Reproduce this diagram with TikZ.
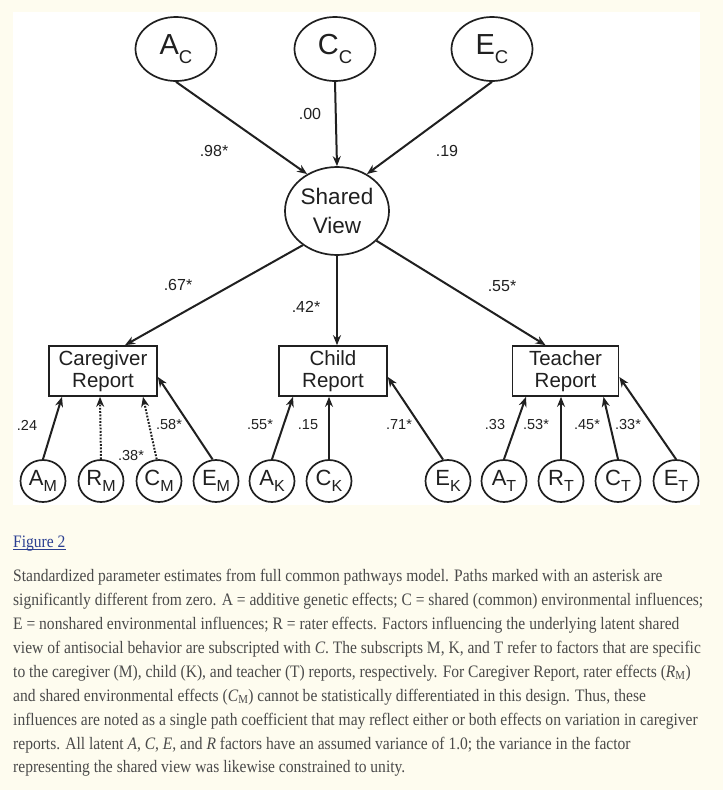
\documentclass[tikz,border=0pt]{standalone}
\usepackage{fontspec}
\setmainfont{Liberation Sans}
\newfontfamily\capfont{Liberation Serif}
\usepackage{graphicx}
\usetikzlibrary{shapes.geometric,arrows.meta}

\definecolor{bgcream}{HTML}{FEFCEF}
\definecolor{ink}{HTML}{202020}
\definecolor{captxt}{HTML}{4A4A4A}
\definecolor{linkblue}{HTML}{2B3F91}

\newcommand\toplab[2]{\fontsize{29}{29}\selectfont #1\raisebox{-9.5pt}{\fontsize{18.5}{18.5}\selectfont #2}}
\newcommand\botlab[2]{\fontsize{22}{22}\selectfont #1\raisebox{-6.5pt}{\fontsize{16}{16}\selectfont #2}}
\newcommand\capsize{\capfont\fontsize{17.5}{17.5}\selectfont}
\newsavebox\capbox
\newlength\caplen
\newcommand\capline[1]{\scalebox{\capf}[1]{\capsize #1}}

\begin{document}
\sbox\capbox{\capsize significantly different from zero. A = additive genetic effects; C = shared (common) environmental influences;}%
\setlength\caplen{\wd\capbox}%
\pgfmathsetmacro\capf{690/\caplen}%
\begin{tikzpicture}[x=1pt,y=-1pt,
  every node/.style={text=ink},
  lat/.style={draw=ink, ellipse, line width=1.7pt, inner sep=0pt},
  toplat/.style={lat, minimum width=81pt, minimum height=64pt},
  botlat/.style={lat, minimum width=45pt, minimum height=42pt},
  rep/.style={draw=ink, rectangle, line width=1.7pt, minimum width=108pt, minimum height=50pt, align=center, font=\fontsize{20.5}{22}\selectfont, inner sep=0pt},
  arr/.style={draw=ink, line width=2pt, -{Stealth[length=10pt,width=8pt]}},
  dotarr/.style={arr, dash pattern=on 1.8pt off 1.5pt},
  lab/.style={font=\fontsize{16}{16}\selectfont, inner sep=0pt},
  slab/.style={font=\fontsize{14.5}{14.5}\selectfont, inner sep=0pt},
  capl/.style={anchor=base west, inner sep=0pt, text=captxt},
]
\useasboundingbox (0,0) rectangle (723,790);
\fill[bgcream] (0,0) rectangle (723,790);
\fill[white] (13,12) rectangle (700,505);

% top latent factors
\node[toplat] (AC) at (176,49) {\toplab{A}{C}};
\node[toplat] (CC) at (335,49) {\toplab{C}{C}};
\node[toplat] (EC) at (492,49) {\toplab{E}{C}};

% shared view
\node[lat, minimum width=104pt, minimum height=88pt, align=center, font=\fontsize{22.5}{29}\selectfont] (SV) at (337,211) {Shared\\View};

% reports
\node[rep] (CG) at (103,371) {Caregiver\\Report};
\node[rep] (CR) at (333,371) {Child\\Report};
\node[rep, minimum width=106pt] (TR) at (565.5,371) {Teacher\\Report};

% bottom latent factors
\node[botlat] (AM) at (43,481) {\botlab{A}{M}};
\node[botlat] (RM) at (101,481) {\botlab{R}{M}};
\node[botlat] (CM) at (159,481) {\botlab{C}{M}};
\node[botlat] (EM) at (216,481) {\botlab{E}{M}};
\node[botlat] (AK) at (272,481) {\botlab{A}{K}};
\node[botlat] (CK) at (329,481) {\botlab{C}{K}};
\node[botlat] (EK) at (448,481) {\botlab{E}{K}};
\node[botlat] (AT) at (504,481) {\botlab{A}{T}};
\node[botlat] (RT) at (561,481) {\botlab{R}{T}};
\node[botlat] (CT) at (618,481) {\botlab{C}{T}};
\node[botlat] (ET) at (676,481) {\botlab{E}{T}};

% top paths
\draw[arr] (AC.south) -- (SV.129);
\draw[arr] (CC.south) -- (SV.north);
\draw[arr] (EC.south) -- (SV.51);
\node[lab] (l98) at (214,151) {.98*};
\node[lab] (l00) at (310,114) {.00};
\node[lab] (l19) at (447,151) {.19};

% shared view to reports
\draw[arr] (SV.225) -- ([xshift=22pt]CG.north);
\draw[arr] (SV.south) -- (SV.south |- CR.north);
\draw[arr] (SV.-37) -- ([xshift=-20pt]TR.north);
\node[lab] (l67) at (178,285) {.67*};
\node[lab] (l42) at (306,307) {.42*};
\node[lab] (l55) at (502,286) {.55*};

% caregiver
\draw[arr] (AM.north) -- ([xshift=-41pt]CG.south);
\draw[dotarr] (RM.north) -- ([xshift=-3pt]CG.south);
\draw[dotarr] (CM.96) -- ([xshift=40pt]CG.south);
\draw[arr] (EM.99) -- ([yshift=-6pt]CG.east);
\node[slab] (l24) at (27,425) {.24};
\node[slab] (l58) at (169,425) {.58*};
\node[slab] (l38) at (131,456) {.38*};

% child
\draw[arr] (AK.north) -- ([xshift=-40pt]CR.south);
\draw[arr] (CK.north) -- ([xshift=-4pt]CR.south);
\draw[arr] (EK.103) -- ([yshift=-6pt]CR.east);
\node[slab] (lak) at (260,425) {.55*};
\node[slab] (lck) at (308,425) {.15};
\node[slab] (lek) at (399,425) {.71*};

% teacher
\draw[arr] (AT.north) -- ([xshift=-39.5pt]TR.south);
\draw[arr] (RT.north) -- ([xshift=-4.5pt]TR.south);
\draw[arr] (CT.north) -- ([xshift=38pt]TR.south);
\draw[arr] (ET.north) -- ([yshift=-6pt]TR.east);
\node[slab] (lat1) at (495,425) {.33};
\node[slab] (lat2) at (536,425) {.53*};
\node[slab] (lct) at (587,425) {.45*};
\node[slab] (let) at (628,425) {.33*};

% caption
\node[capl, text=linkblue] (fig) at (13,547.3) {\capline{Figure 2}};
\draw[linkblue, line width=0.9pt] ([yshift=-2.5pt]fig.base west) -- ([yshift=-2.5pt]fig.base east);
\node[capl] (c1) at (13,581.7) {\capline{Standardized parameter estimates from full common pathways model. Paths marked with an asterisk are}};
\node[capl] (c2) at (13,605.6) {\capline{significantly different from zero. A = additive genetic effects; C = shared (common) environmental influences;}};
\node[capl] (c3) at (13,629.5) {\capline{E = nonshared environmental influences; R = rater effects. Factors influencing the underlying latent shared}};
\node[capl] (c4) at (13,653.4) {\capline{view of antisocial behavior are subscripted with \textit{C}. The subscripts M, K, and T refer to factors that are specific}};
\node[capl] (c5) at (13,677.3) {\capline{to the caregiver (M), child (K), and teacher (T) reports, respectively. For Caregiver Report, rater effects (\textit{R}\textsubscript{M})}};
\node[capl] (c6) at (13,701.2) {\capline{and shared environmental effects (\textit{C}\textsubscript{M}) cannot be statistically differentiated in this design. Thus, these}};
\node[capl] (c7) at (13,725.1) {\capline{influences are noted as a single path coefficient that may reflect either or both effects on variation in caregiver}};
\node[capl] (c8) at (13,749.0) {\capline{reports. All latent \textit{A}, \textit{C}, \textit{E}, and \textit{R} factors have an assumed variance of 1.0; the variance in the factor}};
\node[capl] (c9) at (13,772.9) {\capline{representing the shared view was likewise constrained to unity.}};
\end{tikzpicture}
\end{document}
